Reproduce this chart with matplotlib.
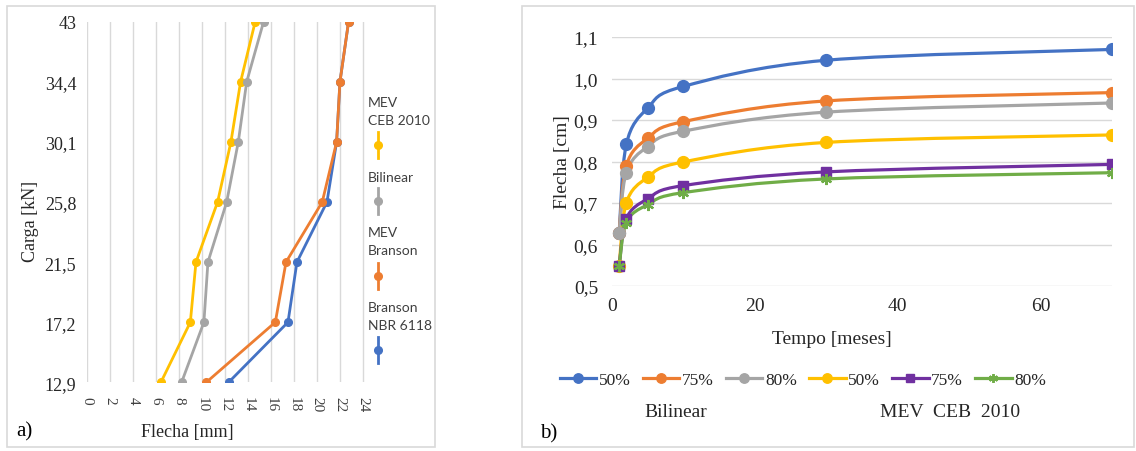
import matplotlib
matplotlib.use("Agg")
import matplotlib.pyplot as plt
from matplotlib.lines import Line2D
from matplotlib.patches import Rectangle, PathPatch
from matplotlib.path import Path

# ---------------- data: panel a) ----------------
carga_labels = ["12,9", "17,2", "21,5", "25,8", "30,1", "34,4", "43"]
flecha_mev_ceb = [6.4, 8.96, 9.45, 11.33, 12.49, 13.33, 14.6]
flecha_bilinear = [8.2, 10.14, 10.49, 12.12, 13.13, 13.86, 15.33]
flecha_mev_branson = [10.35, 16.35, 17.28, 20.43, 21.68, 21.97, 22.72]
flecha_branson_nbr = [12.29, 17.45, 18.23, 20.84, 21.68, 21.97, 22.72]
flecha_ticks = list(range(0, 25, 2))

# ---------------- data: panel b) ----------------
tempo = [1, 2, 5, 10, 30, 70]
bil_50 = [0.627, 0.841, 0.929, 0.981, 1.044, 1.070]
bil_75 = [0.627, 0.790, 0.856, 0.896, 0.946, 0.966]
bil_80 = [0.627, 0.773, 0.836, 0.873, 0.919, 0.941]
mev_50 = [0.547, 0.700, 0.762, 0.799, 0.846, 0.864]
mev_75 = [0.547, 0.662, 0.710, 0.742, 0.775, 0.793]
mev_80 = [0.547, 0.653, 0.696, 0.725, 0.758, 0.773]
pct_labels = ["50%", "75%", "80%", "50%", "75%", "80%"]

BLUE, ORANGE, GRAY, YELLOW, PURPLE, GREEN = "#4472C4", "#ED7D31", "#A5A5A5", "#FFC000", "#7030A0", "#70AD47"
GRID = "#D9D9D9"
SERIF = "Liberation Serif"
SANS = "Lato"

W, H = 1136, 452
fig = plt.figure(figsize=(W / 100, H / 100), dpi=100)
fig.patch.set_facecolor("white")


def fx(px):
    return px / W


def fy(py):
    return 1 - py / H


# panel frames
fig.add_artist(Rectangle((fx(7), fy(448)), fx(428), (441) / H, transform=fig.transFigure,
                         fill=False, edgecolor=GRID, lw=1.2))
fig.add_artist(Rectangle((fx(522), fy(448)), fx(612), (441) / H, transform=fig.transFigure,
                         fill=False, edgecolor=GRID, lw=1.2))

# ---------------- panel a) ----------------
ax1 = fig.add_axes([fx(87.3), fy(383.3), fx(25.5 * 11.5), (383.3 - 22.7) / H])
ypos = list(range(len(carga_labels)))
for vals, col in [(flecha_mev_ceb, YELLOW), (flecha_bilinear, GRAY),
                  (flecha_branson_nbr, BLUE), (flecha_mev_branson, ORANGE)]:
    ax1.plot(vals, ypos, color=col, lw=2.0, marker="o", ms=5.5, zorder=3)
ax1.set_xlim(0, 25.5)
ax1.set_ylim(0, 6)
ax1.set_xticks(flecha_ticks)
ax1.set_xticklabels([str(t) for t in flecha_ticks], rotation=-90, fontfamily=SERIF,
                    fontsize=11, color="#404040")
ax1.set_yticks(ypos)
ax1.set_yticklabels(carga_labels, fontfamily=SERIF, fontsize=13, color="#262626")
ax1.tick_params(axis="both", length=0)
ax1.tick_params(axis="y", pad=8)
ax1.tick_params(axis="x", pad=10)
ax1.grid(axis="x", color=GRID, lw=1)
ax1.set_axisbelow(True)
for s in ax1.spines.values():
    s.set_visible(False)
ax1.set_xlabel("Flecha [mm]", fontfamily=SERIF, fontsize=13, color="#262626")
ax1.xaxis.set_label_coords(0.34, -0.112)
ax1.set_ylabel("Carga [kN]", fontfamily=SERIF, fontsize=13, color="#262626")
ax1.yaxis.set_label_coords(-0.165, 0.45)

fig.text(fx(16), fy(432), "a)", fontfamily=SERIF, fontsize=15, va="center", ha="left")

# legend of panel a) (vertical entries)
leg_a = [(["MEV", "CEB 2010"], YELLOW, 103, 146),
         (["Bilinear"], GRAY, 178, 202),
         (["MEV", "Branson"], ORANGE, 233, 277),
         (["Branson", "NBR 6118"], BLUE, 308, 351)]
for lines, col, ytxt, ydot in leg_a:
    for k, t in enumerate(lines):
        fig.text(fx(368), fy(ytxt + 18 * k), t, fontfamily=SANS, fontsize=10,
                 color="#404040", va="center", ha="left")
    fig.add_artist(Line2D([fx(378), fx(378)], [fy(ydot - 13), fy(ydot + 13)],
                          transform=fig.transFigure, color=col, lw=2.0))
    fig.add_artist(Line2D([fx(378)], [fy(ydot)], transform=fig.transFigure,
                          color=col, marker="o", ms=5.5, lw=0))

# ---------------- panel b) ----------------
ax2 = fig.add_axes([fx(612), fy(287), fx(500), (287 - 38) / H])


def smooth_path(xs, ys):
    pts = list(zip(xs, ys))
    n = len(pts)
    verts = [pts[0]]
    codes = [Path.MOVETO]
    for i in range(n - 1):
        p0 = pts[i - 1] if i > 0 else pts[i]
        p1 = pts[i]
        p2 = pts[i + 1]
        p3 = pts[i + 2] if i + 2 < n else pts[i + 1]
        c1 = (p1[0] + (p2[0] - p0[0]) / 6, p1[1] + (p2[1] - p0[1]) / 6)
        c2 = (p2[0] - (p3[0] - p1[0]) / 6, p2[1] - (p3[1] - p1[1]) / 6)
        verts += [c1, c2, p2]
        codes += [Path.CURVE4] * 3
    return Path(verts, codes)


series_b = [(bil_50, BLUE, "o", 8.5), (bil_75, ORANGE, "o", 8.5), (bil_80, GRAY, "o", 8.5),
            (mev_50, YELLOW, "o", 8.5), (mev_75, PURPLE, "s", 7), (mev_80, GREEN, (6, 2, 0), 8)]
handles = []
for (vals, col, mk, ms), lab in zip(series_b, pct_labels):
    ax2.add_patch(PathPatch(smooth_path(tempo, vals), fill=False, edgecolor=col, lw=2.3,
                            zorder=3, capstyle="round"))
    if isinstance(mk, tuple):
        ax2.plot(tempo, vals, lw=0, marker=mk, ms=ms, mec=col, mew=1.6, zorder=4)
    else:
        ax2.plot(tempo, vals, lw=0, marker=mk, ms=ms, color=col, zorder=4)
    h = Line2D([], [], color=col, lw=2.3, marker=mk, ms=ms * 0.8, mec=col,
               mew=1.4 if isinstance(mk, tuple) else 1.0)
    handles.append(h)

ax2.set_xlim(0, 70)
ax2.set_ylim(0.5, 1.1)
ax2.set_xticks([0, 20, 40, 60])
ax2.set_xticklabels(["0", "20", "40", "60"], fontfamily=SERIF, fontsize=14, color="#262626")
yt = [0.5, 0.6, 0.7, 0.8, 0.9, 1.0, 1.1]
ax2.set_yticks(yt)
ax2.set_yticklabels([f"{v:.1f}".replace(".", ",") for v in yt], fontfamily=SERIF,
                    fontsize=14, color="#262626")
ax2.tick_params(axis="both", length=0)
ax2.tick_params(axis="y", pad=10)
ax2.tick_params(axis="x", pad=8)
ax2.grid(axis="y", color=GRID, lw=1)
ax2.set_axisbelow(True)
for s in ax2.spines.values():
    s.set_visible(False)
ax2.set_xlabel("Tempo [meses]", fontfamily=SERIF, fontsize=14, color="#262626")
ax2.xaxis.set_label_coords(0.44, -0.175)
ax2.set_ylabel("Flecha [cm]", fontfamily=SERIF, fontsize=14, color="#262626")
ax2.yaxis.set_label_coords(-0.081, 0.5)

fig.legend(handles=handles, labels=pct_labels, loc="center", ncol=6,
           bbox_to_anchor=(fx(803), fy(381)), frameon=False,
           prop={"family": SERIF, "size": 12.5}, handlelength=2.1, handletextpad=0.15,
           columnspacing=0.7, labelcolor="#262626")
fig.text(fx(676), fy(413), "Bilinear", fontfamily=SERIF, fontsize=14, ha="center",
         va="center", color="#262626")
fig.text(fx(950), fy(413), "MEV  CEB  2010", fontfamily=SERIF, fontsize=14, ha="center",
         va="center", color="#262626")
fig.text(fx(540), fy(434), "b)", fontfamily=SERIF, fontsize=15, ha="left", va="center")

fig.savefig("out.png", dpi=100, facecolor="white")
